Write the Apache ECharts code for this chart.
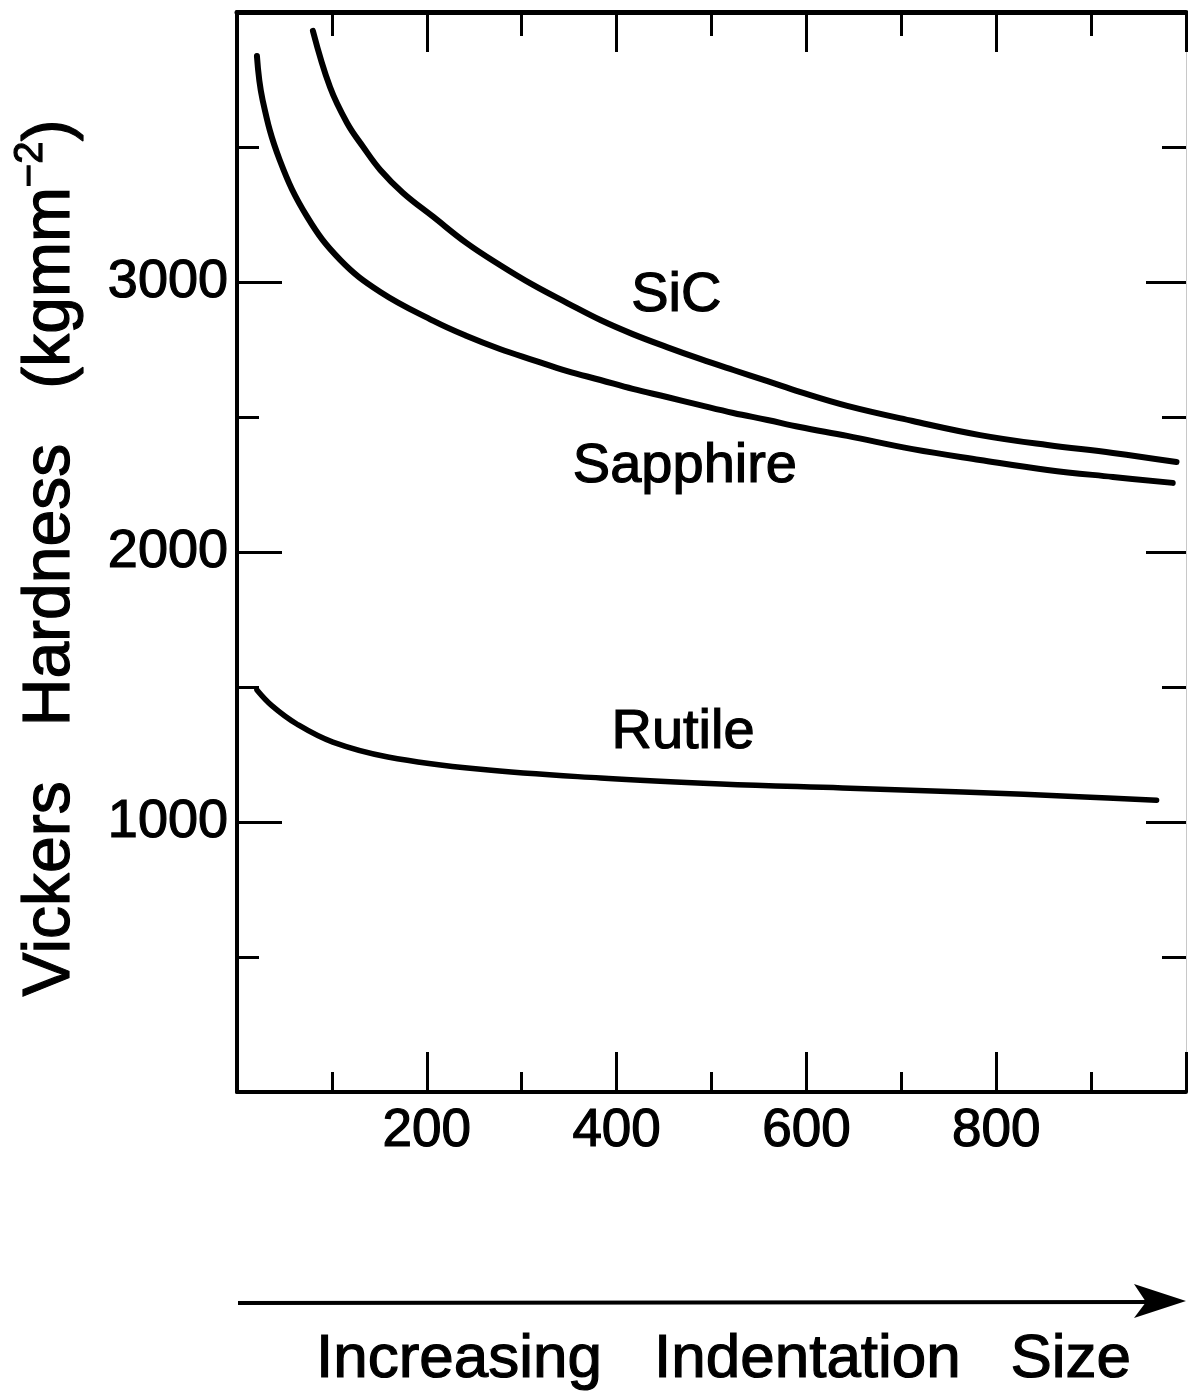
<!DOCTYPE html>
<html>
<head>
<meta charset="utf-8">
<script src="https://cdn.jsdelivr.net/npm/echarts@6/dist/echarts.min.js"></script>
<style>
  html, body { margin: 0; padding: 0; background: #fff; }
  #chart { width: 1188px; height: 1396px; }
</style>
</head>
<body>
<div id="chart"></div>
<script>
// indentation size (x) and Vickers hardness (y)
const sicX = [80, 98, 116, 133, 151, 175, 207, 242, 277, 312, 348, 383, 417, 453, 488, 523, 559, 593, 643, 712, 783, 854, 923, 990];
const sicY = [3930, 3722, 3589, 3500, 3415, 3330, 3241, 3144, 3063, 2989, 2922, 2859, 2807, 2759, 2715, 2674, 2633, 2593, 2541, 2485, 2433, 2396, 2367, 2333];

const sapphireX = [21, 27, 45, 74, 109, 151, 207, 242, 277, 312, 348, 383, 417, 453, 488, 523, 559, 593, 643, 712, 783, 854, 923, 986];
const sapphireY = [3837, 3674, 3452, 3241, 3081, 2963, 2856, 2800, 2752, 2711, 2670, 2637, 2604, 2574, 2544, 2515, 2489, 2463, 2430, 2381, 2341, 2304, 2278, 2256];

const rutileX = [21, 37, 63, 101, 159, 254, 383, 510, 638, 765, 893, 969];
const rutileY = [1489, 1430, 1363, 1296, 1241, 1196, 1163, 1141, 1126, 1111, 1093, 1081];

const xLabelValues = [200, 400, 600, 800];
const yLabelValues = [1000, 2000, 3000];

const seriesNames = ["SiC", "Sapphire", "Rutile"];

const FONT = '"Liberation Sans", Arial, Helvetica, sans-serif';
const pairs = (xs, ys) => xs.map((x, i) => [x, ys[i]]);

// the scanned lettering is a little heavier than a plain regular face
const labelInk = { textBorderColor: "#000", textBorderWidth: 1.2 };
const graphicInk = { stroke: "#000", lineWidth: 1.2 };

function curve(name, xs, ys, width) {
  return {
    name,
    type: "line",
    data: pairs(xs, ys),
    showSymbol: false,
    smooth: 0.4,
    silent: true,
    lineStyle: { color: "#000", width, cap: "round", join: "round" },
  };
}

function xAxisOf(position, lineWidth, tickLen, minorLen, labels) {
  return {
    type: "value",
    position,
    min: 0,
    max: 1000,
    interval: 200,
    splitLine: { show: false },
    minorSplitLine: { show: false },
    axisLine: { onZero: false, lineStyle: { color: "#000", width: lineWidth } },
    axisTick: { inside: true, length: tickLen, lineStyle: { color: "#000", width: 3 } },
    minorTick: { show: true, splitNumber: 2, length: minorLen, lineStyle: { color: "#000", width: 3 } },
    axisLabel: {
      show: labels,
      margin: 13,
      color: "#000",
      fontFamily: FONT,
      fontSize: 53,
      ...labelInk,
      formatter: (v) => (xLabelValues.includes(v) ? String(v) : ""),
    },
  };
}

function yAxisOf(position, lineStyle, tickLen, minorLen, labels) {
  return {
    type: "value",
    position,
    min: 0,
    max: 4000,
    interval: 1000,
    splitLine: { show: false },
    minorSplitLine: { show: false },
    axisLine: { onZero: false, lineStyle },
    axisTick: { inside: true, length: tickLen, lineStyle: { color: "#000", width: 3 } },
    minorTick: { show: true, splitNumber: 2, length: minorLen, lineStyle: { color: "#000", width: 3 } },
    axisLabel: {
      show: labels,
      margin: 9,
      color: "#000",
      fontFamily: FONT,
      fontSize: 54,
      ...labelInk,
      formatter: (v) => (yLabelValues.includes(v) ? String(v) : ""),
    },
  };
}

const chart = echarts.init(document.getElementById("chart"));

chart.setOption({
  animation: false,
  backgroundColor: "#fff",
  grid: { left: 237, right: 2, top: 12, bottom: 304, outerBoundsMode: "none" },
  xAxis: [
    xAxisOf("bottom", 4, 40, 20, true),
    xAxisOf("top", 5, 40, 24, false),
  ],
  yAxis: [
    yAxisOf("left", { color: "#000", width: 4 }, 45, 22, true),
    yAxisOf("right", { color: "#c8c8c8", width: 1 }, 40, 24, false),
  ],
  series: [
    curve(seriesNames[0], sicX, sicY, 6),
    curve(seriesNames[1], sapphireX, sapphireY, 6),
    curve(seriesNames[2], rutileX, rutileY, 5.5),
  ],
});

// curve labels sit at data coordinates
const labelAnchors = [[463, 2948], [472, 2315], [470, 1333]];
const labelTexts = seriesNames.map((name, i) => {
  const [px, py] = chart.convertToPixel({ gridIndex: 0 }, labelAnchors[i]);
  return {
    type: "text",
    x: px,
    y: py,
    silent: true,
    style: { text: name, fontFamily: FONT, fontSize: 56, fill: "#000", ...graphicInk, align: "center", verticalAlign: "middle" },
  };
});

const captionStyle = { fontFamily: FONT, fontSize: 62, fill: "#000", ...graphicInk, verticalAlign: "middle" };

chart.setOption({
  graphic: [
    ...labelTexts,
    {
      // y axis title, reads bottom to top
      type: "text",
      x: 51,
      y: 558,
      rotation: Math.PI / 2,
      silent: true,
      style: {
        text: "{t|Vickers   Hardness   (kgmm}{s|\u22122}{t|)}",
        align: "center",
        verticalAlign: "middle",
        fill: "#000",
        rich: {
          t: { fontFamily: FONT, fontSize: 66, lineHeight: 80, fill: "#000", ...graphicInk },
          s: { fontFamily: FONT, fontSize: 40, verticalAlign: "top", lineHeight: 40, fill: "#000", ...graphicInk },
        },
      },
    },
    {
      type: "line",
      silent: true,
      shape: { x1: 238, y1: 1303, x2: 1150, y2: 1302 },
      style: { stroke: "#000", lineWidth: 4 },
    },
    {
      type: "polygon",
      silent: true,
      shape: { points: [[1186, 1301], [1134, 1284], [1146, 1302], [1134, 1318]] },
      style: { fill: "#000" },
    },
    {
      type: "text", x: 316, y: 1360, silent: true,
      style: { text: "Increasing", align: "left", ...captionStyle },
    },
    {
      type: "text", x: 654, y: 1360, silent: true,
      style: { text: "Indentation", align: "left", ...captionStyle },
    },
    {
      type: "text", x: 1131, y: 1360, silent: true,
      style: { text: "Size", align: "right", ...captionStyle },
    },
  ],
});
</script>
</body>
</html>
